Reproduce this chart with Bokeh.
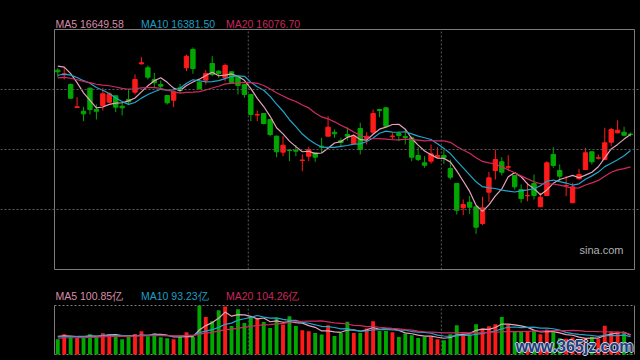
import numpy as np
import pandas as pd
from bokeh.plotting import figure
from bokeh.models import Range1d, Span, Label
from bokeh.layouts import column
from bokeh.embed import file_html
from bokeh.resources import INLINE

# ---------------- data ----------------
opens = [17722,17645,17483,17100,17038,17422,17067,17133,17188,17295,
         17122,17233,17355,17828,17762,17567,17483,17300,17222,17428,
         17762,18067,17522,17555,17833,17705,17595,17695,17605,17483,
         17317,16975,17000,16900,16622,16355,16392,16388,16217,16288,
         16345,16455,16622,16688,16550,16650,16495,16750,16583,16688,
         17067,17095,16617,16667,16617,16595,16300,16178,16205,16272,
         16300,16083,15833,15428,15522,15445,15167,15688,16050,16195,
         16105,15967,15733,15628,15833,15445,15633,16317,16050,15795,
         15512,15912,16067,16362,16255,16233,16522,16678,16688,16658]
highs = [17755,17762,17500,17272,17112,17433,17150,17428,17350,17300,
         17178,17412,17650,17938,17800,17678,17550,17308,17367,17495,
         17983,18100,17533,17722,17955,17722,17833,17700,17617,17492,
         17325,17050,17008,16908,16633,16622,16400,16472,16317,16445,
         16350,16595,16955,16733,16595,16767,16650,16845,16688,17067,
         17078,17100,16678,16700,16733,16617,16438,16288,16483,16438,
         16400,16233,15842,15567,15622,15450,15612,16028,16400,16272,
         16305,15975,15817,15845,15983,15678,16205,16438,16150,15955,
         15845,16078,16428,16367,16317,16762,16762,16888,16778,16683]
lows = [17605,17567,17250,17095,16872,16983,16900,17050,17175,17022,
        16967,17150,17317,17817,17567,17428,17400,17150,17105,17345,
        17705,17662,17400,17483,17622,17595,17538,17500,17317,17262,
        16872,16872,16817,16622,16272,16288,16205,16288,16038,16205,
        16195,16345,16617,16595,16455,16550,16483,16317,16483,16650,
        16938,16762,16567,16538,16483,16205,16205,16095,16162,16262,
        16162,15900,15317,15305,15328,14995,15138,15528,15900,15967,
        16038,15733,15512,15538,15567,15442,15633,16095,15872,15622,
        15508,15900,16067,16150,16233,16233,16455,16667,16622,16617]
closes = [17695,17662,17255,17112,16995,17067,17038,17328,17328,17105,
          17095,17195,17567,17845,17605,17512,17455,17178,17362,17383,
          17955,17750,17412,17667,17650,17667,17800,17512,17467,17317,
          16983,16983,16833,16650,16362,16472,16383,16372,16225,16400,
          16272,16438,16772,16662,16517,16622,16622,16400,16622,17000,
          17050,16788,16625,16633,16600,16272,16233,16138,16328,16300,
          16262,15938,15388,15483,15438,15105,15428,15928,16233,16022,
          16112,15778,15583,15633,15633,15605,16178,16133,15955,15800,
          15778,15983,16345,16195,16262,16512,16733,16722,16638,16650]
# volume, 亿
volumes = [79.6,105.6,95.2,86.3,91.5,105.6,96.7,110.8,104,101.9,
           79.6,91.5,107.1,121.2,95.2,110.8,90,84.8,79.6,95.2,
           116,91.5,254,195.5,173.2,230.4,250,148.7,235.6,164.3,
           192.4,187.2,169.5,138.3,187.2,156,199.2,148.7,126.4,121.2,
           112.3,104,152.4,96.7,112.3,170.6,112.3,112.3,135.2,173.2,
           122.7,122.7,116,91.5,109.2,100.4,86.3,91.5,91.5,79.6,
           74.4,105.6,152.4,109.2,104,157.6,135.2,147.2,157.6,195.5,
           155,117.5,117.5,120,125,105,130,116,85,82,
           88,80,86,92,82,150,118,118,113,5.25]
# sessions before the visible window (estimated from where the MA lines start)
prior_closes = [17500,17567,17600,17533,17483,17583,17617,17550,17517,17567,
                17467,17433,17500,17533,17505,17733,17800,17867,17847]
prior_volumes = [78,80,76,79,81,77,80,78,76,80,88,90,86,87,89,98,101,97,99.4]

price_lo, price_hi = 14400, 18400
price_grid = [15400, 16400, 17400]
vol_lo, vol_hi = 0, 255
month_breaks = [29.6, 59.6]
price_ma_labels = ["MA5 16649.58", "MA10 16381.50", "MA20 16076.70"]
vol_ma_labels = ["MA5 100.85亿", "MA10 93.23亿", "MA20 104.26亿"]
ma_windows = [5, 10, 20]

# ---------------- styles / layout ----------------
RED = "#ff1a1a"
GREEN = "#00a800"
MA_COLORS = ["#e6a3bb", "#1fa6cb", "#cf2a60"]
LABEL_COLORS = ["#d98ca8", "#1c9fc2", "#c9285c"]
GRID = "#5c5c5c"
FRAME = "#7c7c7c"
FONT = "Liberation Sans"
W = 640
X0, X1 = -0.512, 89.62           # index range covered by the chart box
BOX_L, BOX_R = 54, 634           # box edges in px
PXU = (BOX_R - BOX_L) / (X1 - X0)
XS, XE = X0 - BOX_L / PXU, X1 + (W - BOX_R) / PXU

n = len(closes)
idx = np.arange(n)
o = np.array(opens, float); c = np.array(closes, float)
colors = np.where(c >= o, RED, GREEN)

def mas(prior, vals):
    s = pd.Series(list(prior) + list(vals))
    return [s.rolling(w).mean().iloc[len(prior):].values for w in ma_windows]

price_mas = mas(prior_closes, closes)
vol_mas = mas(prior_volumes, volumes)

# ---------------- price panel (box 29..269 px in a 283 px tall figure) ----------------
H1, TOP1, BOT1 = 283, 29, 269
ppx = (price_hi - price_lo) / (BOT1 - TOP1)
p = figure(width=W, height=H1, x_range=Range1d(XS, XE),
           y_range=Range1d(price_lo - (H1 - BOT1) * ppx, price_hi + TOP1 * ppx),
           x_axis_type=None, y_axis_type=None, output_backend="svg", toolbar_location=None,
           min_border=0, min_border_left=0, min_border_right=0, min_border_top=0, min_border_bottom=0,
           background_fill_color="black", border_fill_color="black", outline_line_color=None)

for g in price_grid:
    p.add_layout(Span(location=g, dimension="width", line_color=GRID, line_dash="2 2", line_width=1))
for mb in month_breaks:
    p.segment([mb], [price_lo], [mb], [price_hi], line_color=GRID, line_dash="2 2", line_width=1)
# box
p.segment([X0, X0, X0, X1], [price_lo, price_hi, price_lo, price_lo],
          [X1, X1, X0, X1], [price_lo, price_hi, price_hi, price_hi], line_color=FRAME, line_width=1)

p.segment(idx, highs, idx, lows, color=colors, line_width=1)
p.vbar(x=idx, width=0.68, top=np.maximum(o, c), bottom=np.minimum(o, c),
       fill_color=colors, line_color=colors, line_width=1)
for ma, col in zip(price_mas, MA_COLORS):
    p.line(idx, ma, line_color=col, line_width=1.2)

for txt, col, off in zip(price_ma_labels, LABEL_COLORS, [1, 86.5, 171.5]):
    p.add_layout(Label(x=X0, y=price_hi, x_offset=off, y_offset=5.5, text=txt, text_color=col,
                       text_font=FONT, text_font_size="10.5px", text_baseline="middle"))
p.add_layout(Label(x=X1, y=price_lo, x_offset=-11, y_offset=20, text="sina.com", text_color="#b0b0b0",
                   text_font=FONT, text_font_size="11px", text_align="right", text_baseline="middle"))

# ---------------- volume panel (box 22..71 px in a 77 px tall figure) ----------------
H2, TOP2, BOT2 = 77, 22, 71
vpx = (vol_hi - vol_lo) / (BOT2 - TOP2)
pv = figure(width=W, height=H2, x_range=p.x_range,
            y_range=Range1d(vol_lo - (H2 - BOT2) * vpx, vol_hi + TOP2 * vpx),
            x_axis_type=None, y_axis_type=None, output_backend="svg", toolbar_location=None,
            min_border=0, min_border_left=0, min_border_right=0, min_border_top=0, min_border_bottom=0,
            background_fill_color="black", border_fill_color="black", outline_line_color=None)
pv.segment([X0, X0], [vol_lo, vol_hi], [X1, X1], [vol_lo, vol_hi],
           line_color=FRAME, line_dash="2 2", line_width=1)
pv.segment([X0, X1], [vol_lo, vol_lo], [X0, X1], [vol_hi, vol_hi], line_color=FRAME, line_width=1)
for mb in month_breaks:
    pv.segment([mb], [vol_lo], [mb], [vol_hi], line_color=GRID, line_dash="2 2", line_width=1)

pv.vbar(x=idx, width=0.6, top=volumes, bottom=0, fill_color=colors, line_color=None)
for ma, col in zip(vol_mas, MA_COLORS):
    pv.line(idx, ma, line_color=col, line_width=1.2)

for txt, col, off in zip(vol_ma_labels, LABEL_COLORS, [1, 86.5, 171.5]):
    pv.add_layout(Label(x=X0, y=vol_hi, x_offset=off, y_offset=10, text=txt, text_color=col,
                        text_font=FONT, text_font_size="10.5px", text_baseline="middle"))
# site watermark
for dx, dy in [(-1, 0), (1, 0), (0, -1), (0, 1)]:
    pv.add_layout(Label(x=X1, y=vol_lo, x_offset=-1 + dx, y_offset=8 + dy, text="www.365jz.com",
                        text_color="#c9d3e3", text_font=FONT, text_font_style="bold",
                        text_font_size="16px", text_align="right", text_baseline="middle"))
pv.add_layout(Label(x=X1, y=vol_lo, x_offset=-1, y_offset=8, text="www.365jz.com",
                    text_color="#1e3c78", text_font=FONT, text_font_style="bold",
                    text_font_size="16px", text_align="right", text_baseline="middle"))

layout = column(p, pv, spacing=0)
html = file_html(layout, INLINE, title="K线图")
html = html.replace("</head>",
                    "<style>html,body{margin:0;padding:0;background:#000;overflow:hidden;}</style></head>", 1)
open("out.html", "w").write(html)
